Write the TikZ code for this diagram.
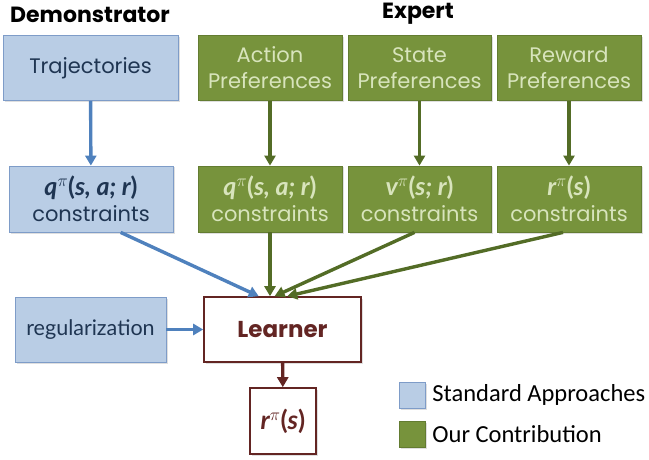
\documentclass[tikz,border=0pt]{standalone}
\usepackage{fontspec}
\newfontfamily\gothic{Poppins}
\newfontfamily\gill{Lato}
\newfontfamily\calib{Carlito}
\usetikzlibrary{arrows.meta, positioning, calc, shadows}

\definecolor{stdfill}{HTML}{B9CDE5}
\definecolor{stdline}{HTML}{7E9CC8}
\definecolor{stdtext}{HTML}{1F3552}
\definecolor{stdarr}{HTML}{4F81BD}
\definecolor{ourfill}{HTML}{77933C}
\definecolor{ourline}{HTML}{637C31}
\definecolor{ourtext}{HTML}{D8E4BC}
\definecolor{ourarr}{HTML}{536C26}
\definecolor{lrn}{HTML}{632523}

% bold italic label with a pi superscript
\newcommand{\fn}[2]{{\gill\bfseries\itshape #1}$^{\pi}${\gill\bfseries(\itshape #2\upshape)}}

\begin{document}
\begin{tikzpicture}[x=1pt, y=-1pt,
    box/.style={align=center, inner sep=0pt, line width=0.8pt,
        font=\gothic\fontsize{21}{26}\selectfont,
        drop shadow={shadow xshift=1.5pt, shadow yshift=-1.5pt, opacity=0.25}},
    stdbox/.style={box, draw=stdline, fill=stdfill, text=stdtext},
    ourbox/.style={box, draw=ourline, fill=ourfill, text=ourtext},
    lrnbox/.style={box, draw=lrn, fill=white, text=lrn, line width=1.6pt},
    title/.style={font=\gothic\bfseries\fontsize{22}{24}\selectfont},
    key/.style={font=\calib\fontsize{24.5}{27}\selectfont, anchor=west},
    stdarrow/.style={-{Triangle[length=10pt,width=11pt]}, line width=3.4pt, draw=stdarr},
    ourarrow/.style={-{Triangle[length=10pt,width=11pt]}, line width=3.4pt, draw=ourarr},
    lrnarrow/.style={-{Triangle[length=10pt,width=11pt]}, line width=3.4pt, draw=lrn}
]
\useasboundingbox (0,0) rectangle (649,460);

% column titles
\node[title] (demo) at (90,15) {Demonstrator};
\node[title] (expert) at (418,14) {Expert};

% sources
\node[stdbox, minimum width=175, minimum height=65] (traj) at (90.5,68) {Trajectories};
\node[ourbox, minimum width=144, minimum height=65] (act) at (270,68) {Action\\Preferences};
\node[ourbox, minimum width=143, minimum height=65] (state) at (419.5,68) {State\\Preferences};
\node[ourbox, minimum width=144, minimum height=65] (rew) at (569,68) {Reward\\Preferences};

% constraints
\node[stdbox, minimum width=164, minimum height=66] (qdemo) at (91,199) {{\fontsize{25}{26}\selectfont\fn{q}{s, a; r}}\\constraints};
\node[ourbox, minimum width=144, minimum height=66] (qact) at (270,199) {{\fontsize{25}{26}\selectfont\fn{q}{s, a; r}}\\constraints};
\node[ourbox, minimum width=143, minimum height=66] (vstate) at (419.5,199) {{\fontsize{25}{26}\selectfont\fn{v}{s; r}}\\constraints};
\node[ourbox, minimum width=144, minimum height=66] (rrew) at (569,199) {{\fontsize{25}{26}\selectfont\fn{r}{s}}\\constraints};

% learner and output
\node[lrnbox, minimum width=157, minimum height=65, font=\gothic\bfseries\fontsize{23}{25}\selectfont] (learner) at (282.5,329.5) {Learner};
\node[stdbox, minimum width=151, minimum height=65, font=\gill\fontsize{21.5}{24}\selectfont] (reg) at (90.5,329.5) {regularization};
\node[lrnbox, minimum width=66, minimum height=66, font=\fontsize{26}{28}\selectfont] (out) at (283,421) {\fn{r}{s}};

% legend
\node[stdbox, minimum width=26, minimum height=26] (stdkey) at (412.5,395) {};
\node[ourbox, minimum width=26, minimum height=26] (ourkey) at (412.5,434) {};
\node[key, right=3pt of stdkey] (stdlbl) {Standard Approaches};
\node[key, right=3pt of ourkey] (ourlbl) {Our Contribution};

% arrows
\draw[stdarrow] (traj) -- (qdemo);
\draw[ourarrow] (act) -- (qact);
\draw[ourarrow] (state) -- (vstate);
\draw[ourarrow] (rew) -- (rrew);
\draw[stdarrow] ($(qdemo.south west)!0.68!(qdemo.south east)$) -- ($(learner.north west)!0.35!(learner.north east)$);
\draw[ourarrow] (qact.south) -- (qact.south |- learner.north);
\draw[ourarrow] ($(vstate.south)+(-5,0)$) -- ($(learner.north west)!0.45!(learner.north east)$);
\draw[ourarrow] ($(rrew.south)+(-6,0)$) -- ($(learner.north west)!0.53!(learner.north east)$);
\draw[stdarrow] (reg) -- (learner);
\draw[lrnarrow] (learner) -- (out);

\end{tikzpicture}
\end{document}
